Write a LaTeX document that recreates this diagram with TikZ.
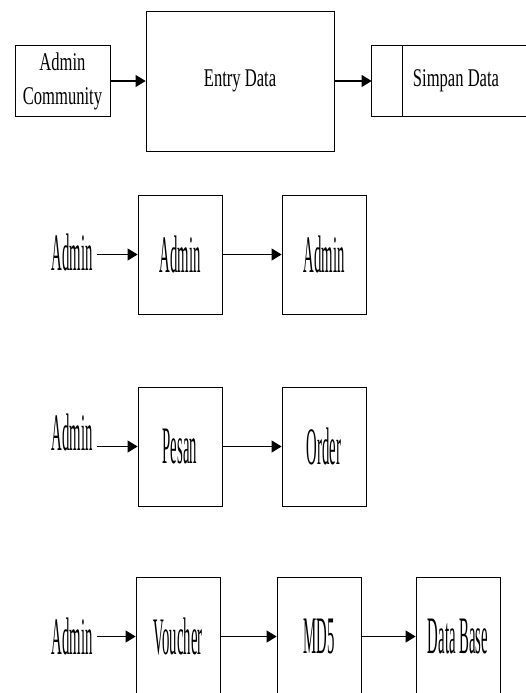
\documentclass[tikz,border=0pt]{standalone}
\usepackage{fontspec}
\newfontfamily\wideserif[FakeStretch=0.65]{Liberation Serif}
\newfontfamily\tallserif[FakeStretch=0.28]{Liberation Serif}
\usetikzlibrary{arrows.meta, positioning}

\begin{document}
\begin{tikzpicture}[x=1pt, y=-1pt,
      flow/.style={-{Triangle[length=10pt, width=12pt]}, line width=1.1pt},
      topbox/.style={draw, line width=0.8pt, inner sep=0pt, align=center,
            font=\wideserif\fontsize{25.5}{34}\selectfont},
      proc/.style={draw, line width=0.8pt, inner sep=0pt,
            minimum width=84pt, minimum height=119pt,
            font=\tallserif\fontsize{52.7}{60}\selectfont},
      actor/.style={inner sep=4pt, font=\tallserif\fontsize{52.7}{60}\selectfont}]
      \useasboundingbox (0,0) rectangle (526,693);

      \node[topbox, minimum width=95pt, minimum height=71pt] (adminc) at (62.5,81)
            {Admin\\Community};
      \node[topbox, minimum width=188pt, minimum height=140pt] (entry) at (240,81)
            {Entry Data};
      \node[topbox, draw=none, minimum width=168pt, minimum height=70pt] (simpan) at (456,81)
            {Simpan Data};
      \draw[line width=0.8pt] ([xshift=-14pt]simpan.north east) -- (simpan.north west)
            -- (simpan.south west) -- ([xshift=-14pt]simpan.south east);
      \draw[line width=0.8pt] ([xshift=31pt]simpan.north west) -- ([xshift=31pt]simpan.south west);
      \draw[flow] (adminc) -- (entry);
      \draw[flow] (entry) -- (simpan.west);

      \node[actor] (actor1) at (72,252) {Admin};
      \node[proc] (admin1) at (180,254.5) {Admin};
      \node[proc] (admin2) at (324,254.5) {Admin};
      \draw[flow] (actor1.east |- admin1.west) -- (admin1.west);
      \draw[flow] (admin1) -- (admin2);

      \node[actor] (actor2) at (72,432) {Admin};
      \node[proc] (pesan) at (180,446.5) {Pesan};
      \node[proc] (order) at (324,446.5) {Order};
      \draw[flow] (actor2.east |- pesan.west) -- (pesan.west);
      \draw[flow] (pesan) -- (order);

      \node[actor] (actor3) at (72,636) {Admin};
      \node[proc] (voucher) at (178,636.5) {Voucher};
      \node[proc] (md5) at (319,636.5) {MD5};
      \node[proc] (database) at (458,636.5) {Data Base};
      \draw[flow] (actor3.east |- voucher.west) -- (voucher.west);
      \draw[flow] (voucher) -- (md5);
      \draw[flow] (md5) -- (database);
    \end{tikzpicture}
\end{document}
